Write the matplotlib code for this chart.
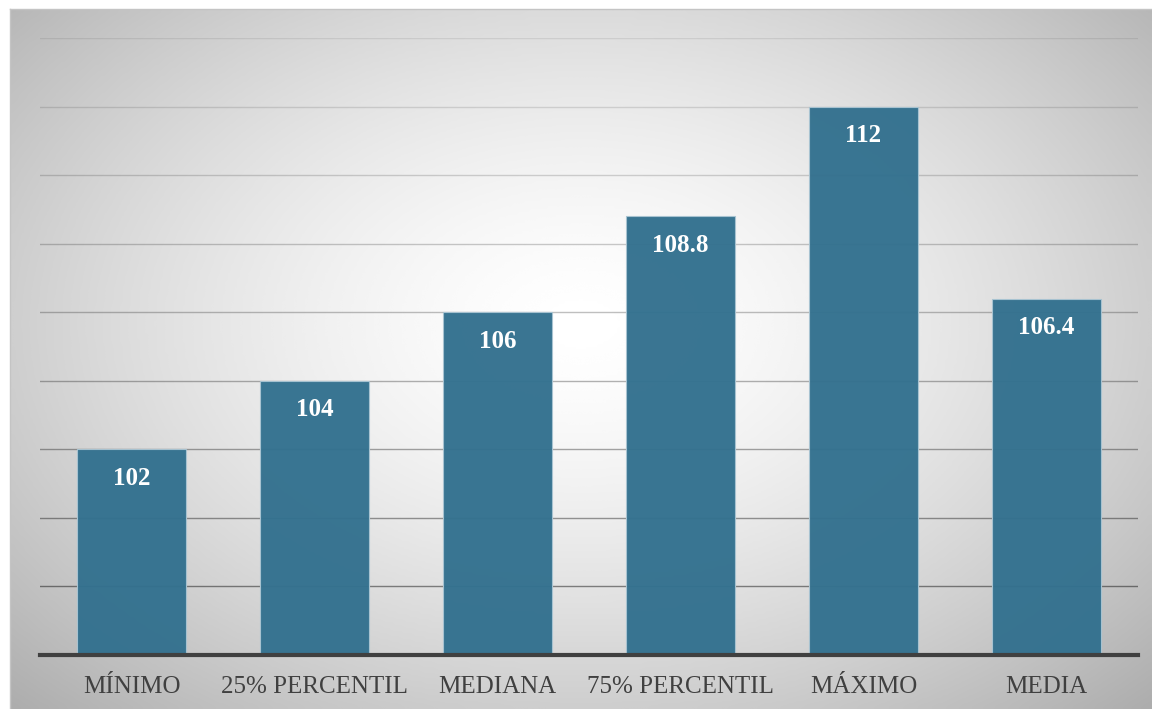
import numpy as np
import matplotlib.pyplot as plt

# estadisticos de la muestra
categorias = ['MÍNIMO', '25% PERCENTIL', 'MEDIANA', '75% PERCENTIL', 'MÁXIMO', 'MEDIA']
valores = [102, 104, 106, 108.8, 112, 106.4]
etiquetas = ['102', '104', '106', '108.8', '112', '106.4']

W, H = 1152, 709
fig = plt.figure(figsize=(W / 100, H / 100), dpi=100)
fig.patch.set_facecolor('white')

# fondo con degradado radial
bg = fig.add_axes([10 / W, 0, 1 - 10 / W, 1 - 9 / H])
nx, ny = 400, 250
gx, gy = np.meshgrid(np.linspace(-1, 1, nx), np.linspace(-1, 1, ny))
cx, cy = 0.0, 0.1
r = np.sqrt(((gx - cx) / 1.1) ** 2 + ((gy - cy) / 1.2) ** 2)
val = np.clip(1.0 - 0.22 * r ** 1.5, 0, 1)
bg.imshow(val, cmap='gray', vmin=0, vmax=1, aspect='auto',
          extent=[0, 1, 0, 1], interpolation='bicubic', origin='lower')
bg.set_xlim(0, 1)
bg.set_ylim(0, 1)
for s in ['top', 'left']:
    bg.spines[s].set_color('#c4c4c4')
    bg.spines[s].set_linewidth(1)
for s in ['bottom', 'right']:
    bg.spines[s].set_visible(False)
bg.set_xticks([])
bg.set_yticks([])

ax = fig.add_axes([40 / W, 1 - 655 / H, (1138 - 40) / W, (655 - 38) / H])
ax.patch.set_alpha(0)
x = np.arange(len(categorias))
barras = ax.bar(x, valores, width=0.6, bottom=0, color='#33718f',
                edgecolor='#a9c4d2', linewidth=0.8, alpha=0.97, zorder=3)
ax.set_ylim(96, 114)
ax.set_xlim(-0.5, len(categorias) - 0.5)

# lineas de division, mas tenues hacia arriba
niveles = np.arange(98, 115, 2)
for v in niveles:
    t = (v - 98) / (114 - 98)
    a = 0.45 - 0.37 * t ** 0.9
    ax.axhline(v, color='black', alpha=a, linewidth=1, zorder=1)

ax.set_yticks([])
ax.tick_params(axis='x', length=0, pad=15)
ax.set_xticks(x)
ax.set_xticklabels(categorias, fontsize=18, color='#404040', family='Liberation Serif')
for s in ['top', 'left', 'right']:
    ax.spines[s].set_visible(False)
ax.spines['bottom'].set_color('#404040')
ax.spines['bottom'].set_linewidth(3)
ax.spines['bottom'].set_zorder(4)

for b, t in zip(barras, etiquetas):
    ax.annotate(t, (b.get_x() + b.get_width() / 2, b.get_height()),
                xytext=(0, -21), textcoords='offset points',
                ha='center', va='center', fontsize=18, fontweight='bold',
                color='white', family='Liberation Serif', zorder=5)

fig.savefig('out.png', dpi=100)
